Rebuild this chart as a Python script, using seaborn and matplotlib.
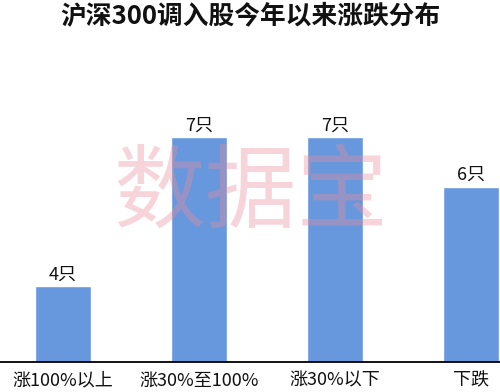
import matplotlib
matplotlib.use("Agg")
import matplotlib.pyplot as plt
import seaborn as sns
import pandas as pd

categories = ["涨100%以上", "涨30%至100%", "涨30%以下", "下跌"]
values = [4, 7, 7, 6]
unit = "只"
title = "沪深300调入股今年以来涨跌分布"
watermark = "数据宝"

sns.set_theme(style="white")
plt.rcParams["font.family"] = ["Noto Sans CJK SC", "DejaVu Sans"]

df = pd.DataFrame({"cat": categories, "val": values})

fig = plt.figure(figsize=(5, 3.92), dpi=100)
ax = fig.add_axes([0, 30 / 392, 1, 302 / 392])
sns.barplot(data=df, x="cat", y="val", color="#6797DD", saturation=1,
            width=0.412, ax=ax)

ax.set_ylim(2.47, 8.56)
ax.set_xlim(-0.463, 3.213)
for s in ["left", "right", "top"]:
    ax.spines[s].set_visible(False)
ax.spines["bottom"].set_color("black")
ax.spines["bottom"].set_linewidth(1.3)
ax.set_xlabel("")
ax.set_ylabel("")
ax.set_yticks([])
ax.tick_params(axis="x", length=0, pad=7, labelsize=13, labelcolor="#111111")

ax.bar_label(ax.containers[0], labels=[f"{v}{unit}" for v in values],
             padding=2, fontsize=13, color="#111111")

fig.text(0.5, 1 - 16 / 392, title, ha="center", va="center",
         fontsize=18.5, fontweight="heavy", color="#111111")
fig.text(251 / 500, 1 - 196 / 392, watermark, ha="center", va="center",
         fontsize=66, color="#E8909E", alpha=0.38, zorder=10)

fig.savefig("out.png", dpi=100, facecolor="white")
